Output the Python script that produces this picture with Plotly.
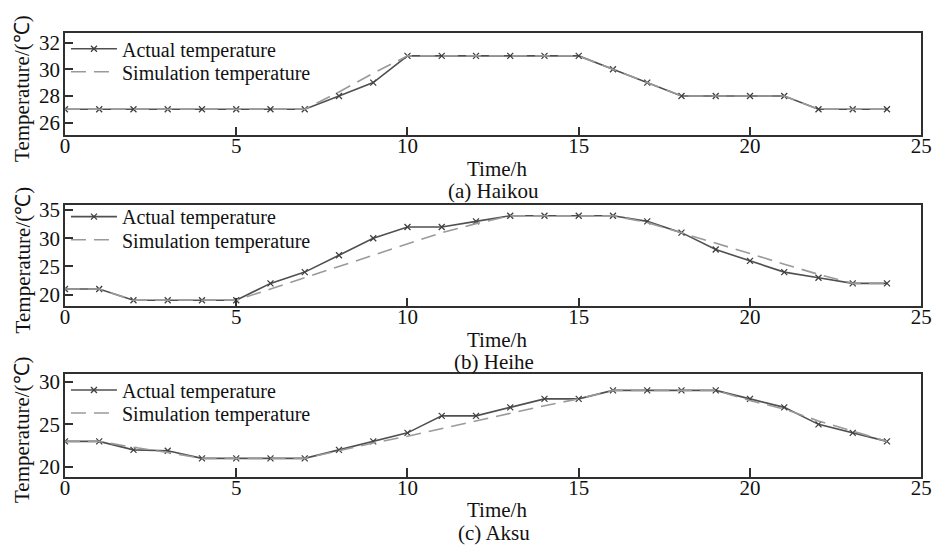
import plotly.graph_objects as go

hours = list(range(25))

haikou_actual = [27, 27, 27, 27, 27, 27, 27, 27, 28, 29, 31, 31, 31, 31, 31, 31,
                 30, 29, 28, 28, 28, 28, 27, 27, 27]
haikou_sim = [27, 27, 27, 27, 27, 27, 27, 27, 28.3, 29.7, 31, 31, 31, 31, 31, 31,
              30, 29, 28, 28, 28, 28, 27, 27, 27]

heihe_actual = [21, 21, 19, 19, 19, 19, 22, 24, 27, 30, 32, 32, 33, 34, 34, 34,
                34, 33, 31, 28, 26, 24, 23, 22, 22]
heihe_sim = [21, 21, 19, 19, 19, 19, 21, 23, 25, 27, 29, 31, 32.6, 34, 34, 34,
             34, 32.8, 31, 29.2, 27.3, 25.4, 23.6, 22, 22]

aksu_actual = [23, 23, 22, 21.9, 21, 21, 21, 21, 22, 23, 24, 26, 26, 27, 28, 28,
               29, 29, 29, 29, 28, 27, 25, 24, 23]
aksu_sim = [23, 23, 22.3, 21.7, 21, 21, 21, 21, 21.9, 22.8, 23.6, 24.5, 25.4, 26.3,
            27.2, 28, 29, 29, 29, 29, 27.8, 26.8, 25.4, 24.2, 23]

captions = ["(a) Haikou", "(b) Heihe", "(c) Aksu"]
y_ranges = [[25.05, 32.7], [17.9, 35.9], [18.85, 30.9]]
y_ticks = [[26, 28, 30, 32], [20, 25, 30, 35], [20, 25, 30]]
x_ticks = [0, 5, 10, 15, 20, 25]

W, H = 946, 552
FONT = "Liberation Serif"
FS = 21
LFS = 20


def px_x(p):
    return p / W


def px_y(p):
    return 1 - p / H


# pixel boxes of the three panels (top, bottom) and legend row centres
panel_px = [(26.7, 130.7), (201.7, 305.0), (374.0, 478.3)]
legend_rows = [(42.5, 66), (213.5, 237), (390, 413.5)]
x_left, x_right = 61, 932

fig = go.Figure()
series = [(haikou_actual, haikou_sim), (heihe_actual, heihe_sim), (aksu_actual, aksu_sim)]
annotations = []
layout = {}
for i, ((act, sim), (top, bot)) in enumerate(zip(series, panel_px)):
    n = "" if i == 0 else str(i + 1)
    lg_a = "legend" + str(2 * i + 1) if i > 0 else "legend"
    lg_s = "legend" + str(2 * i + 2)
    fig.add_trace(go.Scatter(
        x=hours, y=act, mode="lines+markers", name="Actual temperature",
        line=dict(color="#505050", width=1.6), showlegend=True,
        marker=dict(symbol="x-thin", size=6, line=dict(color="#404040", width=1.3)),
        xaxis="x" + n, yaxis="y" + n, legend=lg_a))
    fig.add_trace(go.Scatter(
        x=hours, y=sim, mode="lines", name="Simulation temperature",
        line=dict(color="#9a9a9a", width=1.6, dash="15px,8px"), showlegend=True,
        xaxis="x" + n, yaxis="y" + n, legend=lg_s))
    axis_common = dict(showline=True, linecolor="#303030", linewidth=1.6, mirror=True,
                       showgrid=False, zeroline=False, ticks="inside", tickcolor="#303030",
                       tickwidth=1.6, tickfont=dict(family=FONT, size=FS, color="#111"))
    layout["xaxis" + n] = dict(domain=[px_x(x_left), px_x(x_right)], range=[0, 25],
                               tickvals=x_ticks, ticklen=9, anchor="y" + n,
                               ticklabelstandoff=-9, **axis_common)
    layout["yaxis" + n] = dict(domain=[px_y(bot), px_y(top)], range=y_ranges[i],
                               tickvals=y_ticks[i], ticklen=8, anchor="x" + n,
                               ticklabelstandoff=-1, **axis_common)
    for lg, row in ((lg_a, legend_rows[i][0]), (lg_s, legend_rows[i][1])):
        layout[lg] = dict(x=px_x(62), y=px_y(row), xanchor="left", yanchor="middle",
                          bgcolor="rgba(0,0,0,0)", itemwidth=46, visible=True,
                          font=dict(family=FONT, size=LFS, color="#111"))
    annotations.append(dict(text="Time/h", x=px_x(500), y=px_y(bot + 34), xref="paper",
                            yref="paper", showarrow=False, xanchor="center", yanchor="middle",
                            font=dict(family=FONT, size=FS, color="#111")))
    annotations.append(dict(text=captions[i], x=px_x(497), y=px_y(bot + 57), xref="paper",
                            yref="paper", showarrow=False, xanchor="center", yanchor="middle",
                            font=dict(family=FONT, size=FS, color="#111")))
    annotations.append(dict(text="Temperature/(℃)", x=px_x(18), y=px_y((top + bot) / 2 + 4),
                            xref="paper", yref="paper", showarrow=False, textangle=-90,
                            xanchor="center", yanchor="middle",
                            font=dict(family=FONT, size=FS, color="#111")))

fig.update_layout(width=W, height=H, margin=dict(l=0, r=0, t=0, b=0),
                  plot_bgcolor="white", paper_bgcolor="white", showlegend=True,
                  annotations=annotations, **layout)
fig.write_html("out.html")
